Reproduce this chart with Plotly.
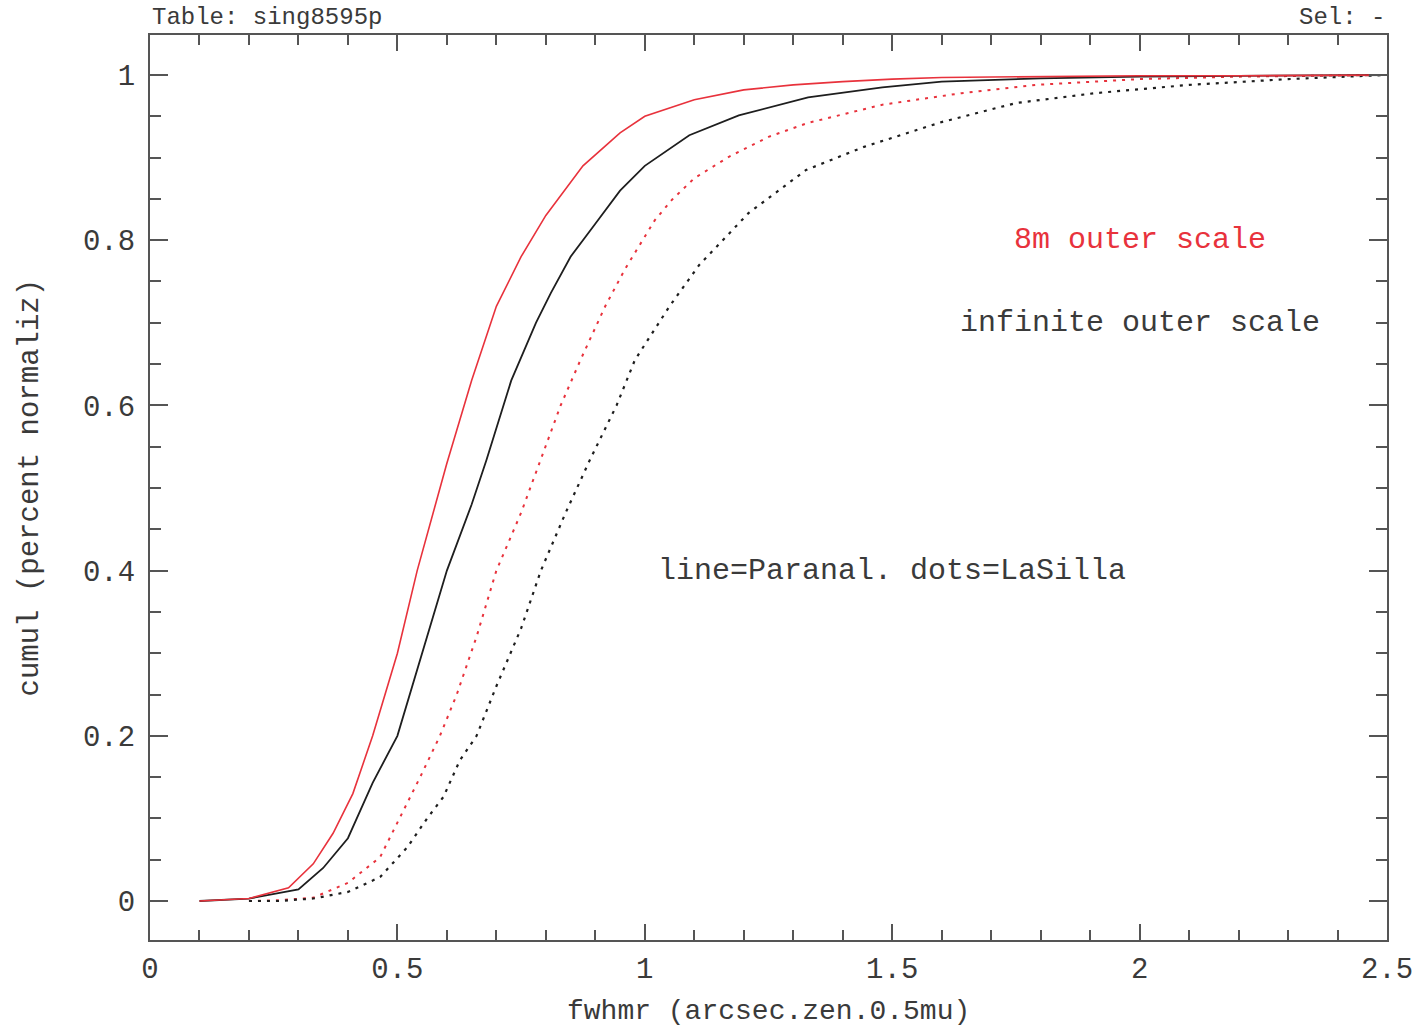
import plotly.graph_objects as go

# Paranal (solid), 8m outer scale (red)
par8_x = [0.10, 0.20, 0.28, 0.33, 0.37, 0.41, 0.45, 0.50, 0.54, 0.60, 0.65, 0.70, 0.75, 0.80, 0.875, 0.95, 1.0, 1.1, 1.2, 1.3, 1.4, 1.5, 1.6, 1.8, 2.0, 2.2, 2.5]
par8_y = [0.0, 0.003, 0.016, 0.045, 0.082, 0.13, 0.20, 0.30, 0.40, 0.53, 0.63, 0.72, 0.78, 0.83, 0.89, 0.93, 0.95, 0.97, 0.982, 0.988, 0.992, 0.995, 0.997, 0.998, 0.999, 0.999, 1.0]

# Paranal (solid), infinite outer scale (black)
parinf_x = [0.10, 0.20, 0.30, 0.35, 0.40, 0.45, 0.50, 0.55, 0.60, 0.65, 0.68, 0.73, 0.78, 0.81, 0.85, 0.90, 0.95, 1.0, 1.09, 1.19, 1.33, 1.48, 1.6, 1.8, 2.0, 2.2, 2.5]
parinf_y = [0.0, 0.003, 0.014, 0.04, 0.076, 0.143, 0.20, 0.30, 0.40, 0.48, 0.534, 0.63, 0.70, 0.736, 0.78, 0.82, 0.86, 0.89, 0.927, 0.951, 0.973, 0.985, 0.992, 0.996, 0.998, 0.999, 1.0]

# La Silla (dots), 8m outer scale (red)
ls8_x = [0.20, 0.26, 0.33, 0.40, 0.465, 0.505, 0.546, 0.586, 0.62, 0.66, 0.70, 0.75, 0.79, 0.83, 0.87, 0.92, 0.96, 1.02, 1.055, 1.10, 1.17, 1.25, 1.33, 1.48, 1.64, 1.79, 2.0, 2.2, 2.5]
ls8_y = [0.0, 0.001, 0.004, 0.022, 0.053, 0.10, 0.15, 0.20, 0.25, 0.32, 0.40, 0.47, 0.534, 0.60, 0.655, 0.72, 0.765, 0.824, 0.849, 0.875, 0.901, 0.925, 0.942, 0.964, 0.978, 0.988, 0.995, 0.998, 1.0]

# La Silla (dots), infinite outer scale (black)
lsinf_x = [0.20, 0.26, 0.33, 0.40, 0.465, 0.52, 0.56, 0.593, 0.626, 0.66, 0.70, 0.75, 0.79, 0.84, 0.889, 0.943, 0.98, 1.05, 1.11, 1.21, 1.326, 1.443, 1.6, 1.75, 1.91, 2.1, 2.3, 2.5]
lsinf_y = [0.0, 0.0, 0.003, 0.011, 0.029, 0.065, 0.10, 0.126, 0.17, 0.20, 0.26, 0.33, 0.40, 0.47, 0.534, 0.60, 0.655, 0.72, 0.77, 0.833, 0.885, 0.913, 0.943, 0.966, 0.978, 0.988, 0.995, 1.0]

x_ticks = [0, 0.5, 1, 1.5, 2, 2.5]
x_ticklabels = ["0", "0.5", "1", "1.5", "2", "2.5"]
y_ticks = [0, 0.2, 0.4, 0.6, 0.8, 1]
y_ticklabels = ["0", "0.2", "0.4", "0.6", "0.8", "1"]

RED = "#e8323c"
BLACK = "#1e1e1e"
AX = "#555555"
TXT = "#3a3a3a"
FONT = "Liberation Mono"

fig = go.Figure()
fig.add_trace(go.Scatter(x=ls8_x, y=ls8_y, mode="lines",
                         line=dict(color=RED, width=2, dash="3px,6px")))
fig.add_trace(go.Scatter(x=lsinf_x, y=lsinf_y, mode="lines",
                         line=dict(color=BLACK, width=2.2, dash="3px,6px")))
fig.add_trace(go.Scatter(x=parinf_x, y=parinf_y, mode="lines",
                         line=dict(color=BLACK, width=1.8)))
fig.add_trace(go.Scatter(x=par8_x, y=par8_y, mode="lines",
                         line=dict(color=RED, width=1.6)))

fig.update_layout(
    width=1425, height=1026,
    margin=dict(l=150, r=38, t=35, b=86),
    paper_bgcolor="white", plot_bgcolor="white",
    showlegend=False,
    font=dict(family=FONT, size=29, color=TXT),
)
fig.update_xaxes(
    range=[0, 2.5], showgrid=False, zeroline=False,
    showline=True, linecolor=AX, linewidth=2, mirror="allticks",
    ticks="inside", ticklen=16, tickwidth=2, tickcolor=AX,
    tickvals=x_ticks, ticktext=x_ticklabels, ticklabelstandoff=1,
    minor=dict(dtick=0.1, tick0=0, ticks="inside", ticklen=10, tickwidth=2, tickcolor=AX),
    tickfont=dict(family=FONT, size=29, color=TXT),
)
fig.update_yaxes(
    range=[-0.0472, 1.0484], showgrid=False, zeroline=False,
    showline=True, linecolor=AX, linewidth=2, mirror="allticks",
    ticks="inside", ticklen=18, tickwidth=2, tickcolor=AX,
    tickvals=y_ticks, ticktext=y_ticklabels, ticklabelstandoff=7,
    minor=dict(dtick=0.05, tick0=0, ticks="inside", ticklen=11, tickwidth=2, tickcolor=AX),
    tickfont=dict(family=FONT, size=29, color=TXT),
)

ann = [
    dict(text="8m outer scale", x=2.0, y=0.8, xref="x", yref="y", showarrow=False,
         font=dict(family=FONT, size=30, color=RED)),
    dict(text="infinite outer scale", x=2.0, y=0.7, xref="x", yref="y", showarrow=False,
         font=dict(family=FONT, size=30, color=TXT)),
    dict(text="line=Paranal. dots=LaSilla", x=1.5, y=0.4, xref="x", yref="y", showarrow=False,
         font=dict(family=FONT, size=30, color=TXT)),
    dict(text="Table: sing8595p", x=0, y=1.019, xref="paper", yref="paper", showarrow=False,
         xanchor="left", yanchor="middle", font=dict(family=FONT, size=24, color=TXT)),
    dict(text="Sel: -", x=1, y=1.019, xref="paper", yref="paper", showarrow=False,
         xanchor="right", yanchor="middle", font=dict(family=FONT, size=24, color=TXT)),
    dict(text="fwhmr (arcsec.zen.0.5mu)", x=0.5, y=-0.0785, xref="paper", yref="paper",
         showarrow=False, xanchor="center", yanchor="middle",
         font=dict(family=FONT, size=28, color=TXT)),
    dict(text="cumul (percent normaliz)", x=-0.097, y=0.5, xref="paper", yref="paper",
         showarrow=False, xanchor="center", yanchor="middle", textangle=-90,
         font=dict(family=FONT, size=29, color=TXT)),
]
fig.update_layout(annotations=ann)

fig.write_html("out.html")
